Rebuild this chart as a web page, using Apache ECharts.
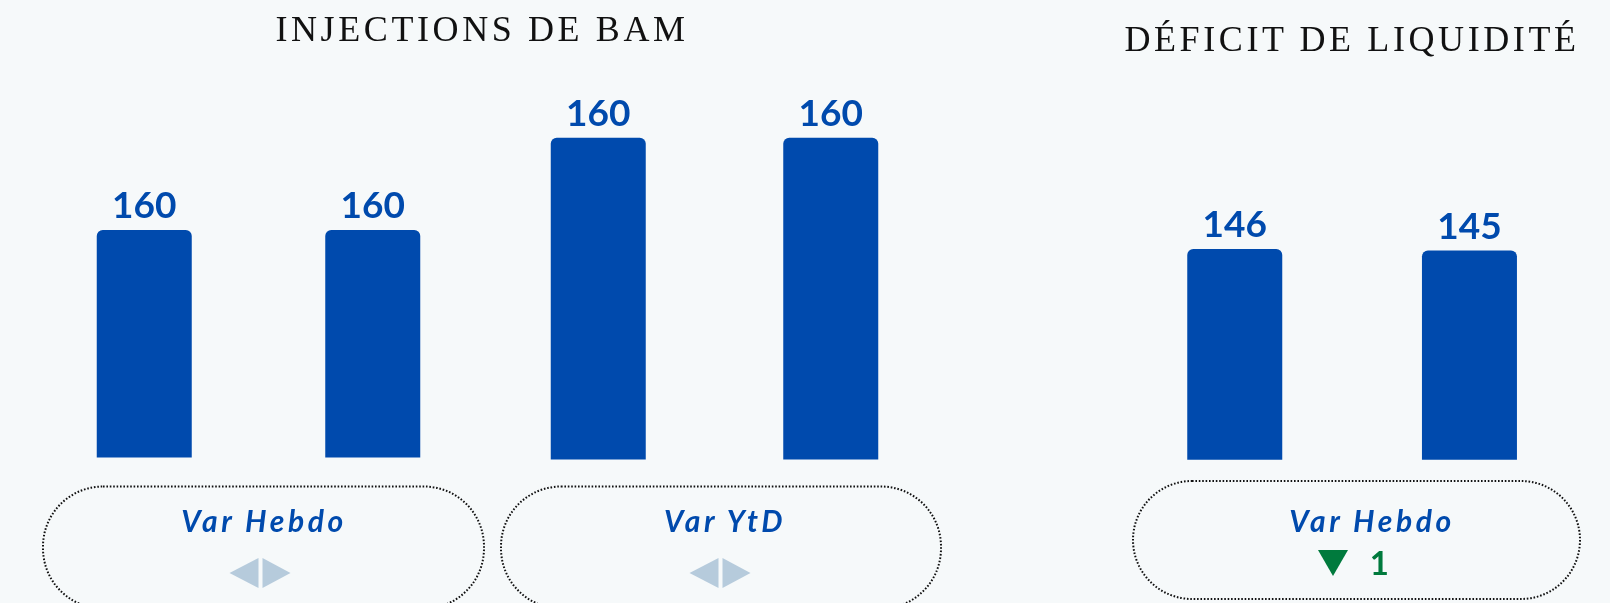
<!DOCTYPE html>
<html>
<head>
<meta charset="utf-8">
<script src="https://cdn.jsdelivr.net/npm/echarts@6/dist/echarts.min.js"></script>
<style>
html, body { margin: 0; background: #f6f9fa; }
#wrap { position: relative; width: 1610px; height: 603px; }
#chart, #frame { position: absolute; left: 0; top: 0; width: 1610px; height: 603px; }
#frame { pointer-events: none; }
/* les titres et les encadrés sont espacés comme dans le visuel */
#frame text { letter-spacing: 3.6px; }
</style>
</head>
<body>
<div id="wrap">
  <div id="chart"></div>
  <div id="frame"></div>
</div>
<script>
// données
var periodes = ['précédent', 'actuel'];
var injHebdo = [160, 160];
var injYtd = [160, 160];
var deficitHebdo = [146, 145];
var titres = ['INJECTIONS DE BAM', 'DÉFICIT DE LIQUIDITÉ'];
var encadres = ['Var Hebdo', 'Var YtD', 'Var Hebdo'];

var bleu = '#004aad';

function serie(idx, data) {
    return {
        type: 'bar',
        xAxisIndex: idx,
        yAxisIndex: idx,
        data: data,
        barWidth: 95,
        itemStyle: { color: bleu, borderRadius: [6, 6, 0, 0] },
        label: {
            show: true,
            position: 'top',
            distance: 5,
            color: bleu,
            fontFamily: 'Lato',
            fontWeight: 'bold',
            fontSize: 37
        }
    };
}

var chart = echarts.init(document.getElementById('chart'));
chart.setOption({
    backgroundColor: '#f6f9fa',
    animation: false,
    grid: [
        { left: 30, width: 457, top: 230, height: 227.5 },
        { left: 482, width: 465, top: 137.7, height: 321.8 },
        { left: 1117.4, width: 469.4, top: 228.8, height: 230.9 }
    ],
    xAxis: [0, 1, 2].map(function (i) {
        return { type: 'category', gridIndex: i, data: periodes, show: false };
    }),
    yAxis: [0, 1, 2].map(function (i) {
        return { type: 'value', gridIndex: i, min: 0, max: 160, show: false };
    }),
    series: [serie(0, injHebdo), serie(1, injYtd), serie(2, deficitHebdo)]
});

// cadre : titres, encadrés pointillés, flèches
function encadre(x, y, w, h) {
    return {
        type: 'rect',
        shape: { x: x, y: y, width: w, height: h, r: 60 },
        style: { fill: 'none', stroke: '#111', lineWidth: 2, lineDash: [1.6, 1.8] }
    };
}
function texteVar(txt, x) {
    return {
        type: 'text',
        x: x, y: 520,
        style: {
            text: txt, fill: bleu, font: 'italic bold 30px Lato',
            textAlign: 'center', textVerticalAlign: 'middle'
        }
    };
}
function stable(cx) {
    var cy = 573, c = '#b6cbdc';
    return [
        { type: 'polygon', shape: { points: [[cx - 31, cy], [cx - 2, cy - 15], [cx - 2, cy + 15]] }, style: { fill: c } },
        { type: 'polygon', shape: { points: [[cx + 2, cy - 15], [cx + 2, cy + 15], [cx + 30, cy]] }, style: { fill: c } }
    ];
}
function titre(txt, x, y) {
    return {
        type: 'text', x: x, y: y,
        style: {
            text: txt, fill: '#111', font: '36px "Liberation Serif"',
            textAlign: 'center', textVerticalAlign: 'middle'
        }
    };
}

var ecart = deficitHebdo[1] - deficitHebdo[0];

var frame = echarts.init(document.getElementById('frame'), null, { renderer: 'svg' });
frame.setOption({
    animation: false,
    graphic: [
        titre(titres[0], 482, 28.5),
        titre(titres[1], 1352, 38.5),
        encadre(43, 486.5, 441, 122),
        encadre(501, 486.5, 440, 122),
        encadre(1133, 481, 447, 118),
        texteVar(encadres[0], 264),
        texteVar(encadres[1], 725),
        texteVar(encadres[2], 1372),
        {
            type: 'polygon',
            shape: { points: [[1318, 550], [1348, 550], [1333, 576]] },
            style: { fill: ecart < 0 ? '#007a3d' : '#c0392b' }
        },
        {
            type: 'text', x: 1381, y: 562,
            style: {
                text: String(Math.abs(ecart)), fill: '#007a3d', font: 'bold 33px Lato',
                textAlign: 'center', textVerticalAlign: 'middle'
            }
        }
    ].concat(stable(260.5), stable(720.5))
});
</script>
</body>
</html>
